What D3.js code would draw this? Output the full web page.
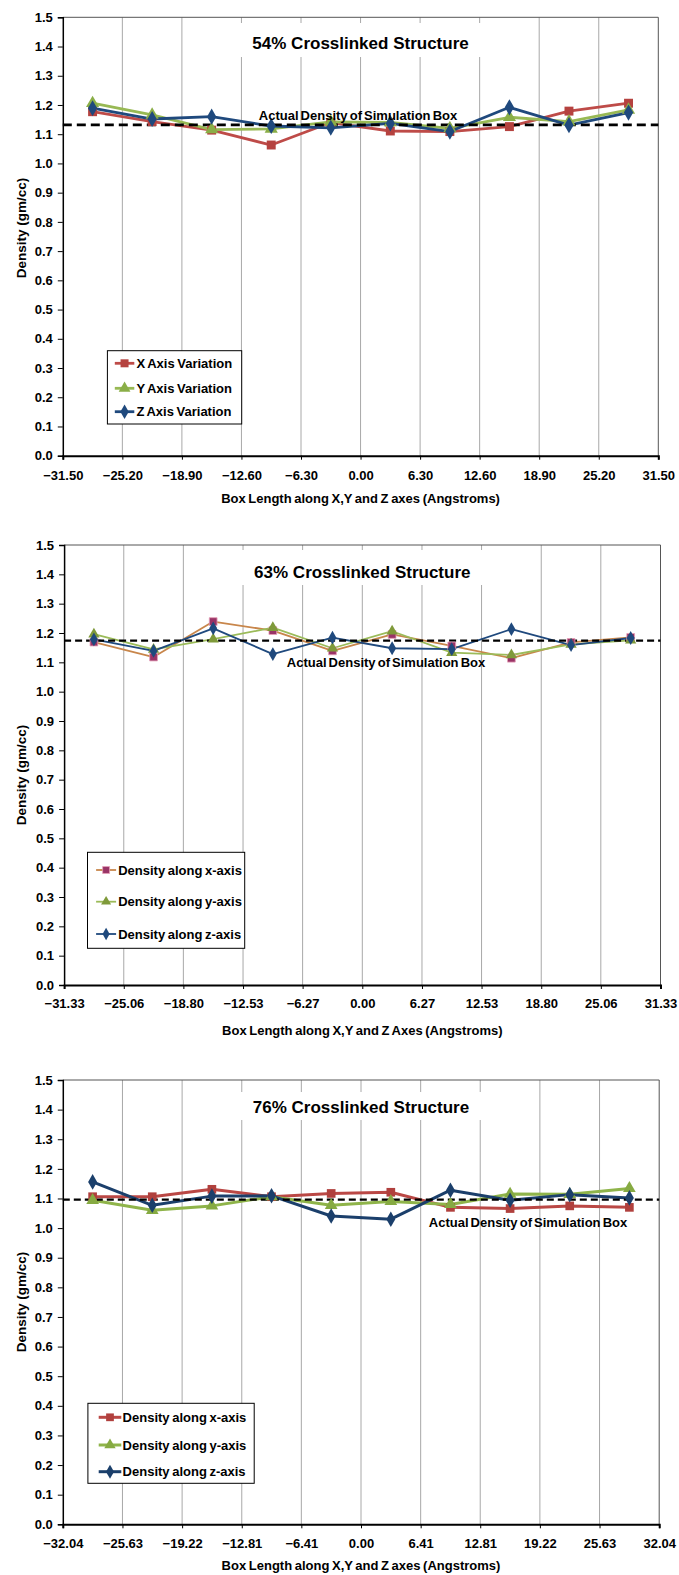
<!DOCTYPE html>
<html><head><meta charset="utf-8">
<script src="https://cdn.jsdelivr.net/npm/d3@7/dist/d3.min.js"></script>
<style>
html,body{margin:0;padding:0;background:#fff;}
svg text{font-family:"Liberation Sans",Arial,sans-serif;font-weight:bold;fill:#000;}
</style></head>
<body>
<svg id="c" width="679" height="1575"></svg>
<script>
// ---------- DATA ----------
const yTicks = [0.0,0.1,0.2,0.3,0.4,0.5,0.6,0.7,0.8,0.9,1.0,1.1,1.2,1.3,1.4,1.5];

// Panel 1 : 54%
const xTicks54 = [-31.50,-25.20,-18.90,-12.60,-6.30,0.00,6.30,12.60,18.90,25.20,31.50];
const pos54 = [-28.35,-22.05,-15.75,-9.45,-3.15,3.15,9.45,15.75,22.05,28.35];
const xVar54 = [1.177,1.143,1.114,1.063,1.140,1.111,1.109,1.126,1.179,1.206];
const yVar54 = [1.206,1.166,1.116,1.118,1.142,1.140,1.120,1.158,1.143,1.183];
const zVar54 = [1.189,1.152,1.160,1.128,1.122,1.137,1.109,1.192,1.131,1.174];
const actual54 = 1.132;

// Panel 2 : 63%
const xTicks63 = [-31.33,-25.06,-18.80,-12.53,-6.27,0.00,6.27,12.53,18.80,25.06,31.33];
const pos63 = [-28.197,-21.931,-15.665,-9.399,-3.133,3.133,9.399,15.665,21.931,28.197];
const xVar63 = [1.169,1.118,1.239,1.208,1.139,1.195,1.156,1.114,1.168,1.185];
const yVar63 = [1.196,1.144,1.179,1.218,1.148,1.206,1.133,1.125,1.161,1.175];
const zVar63 = [1.178,1.139,1.216,1.128,1.184,1.148,1.145,1.213,1.159,1.183];
const actual63 = 1.174;

// Panel 3 : 76%
const xTicks76 = [-32.04,-25.63,-19.22,-12.81,-6.41,0.00,6.41,12.81,19.22,25.63,32.04];
const pos76 = [-28.836,-22.428,-16.02,-9.612,-3.204,3.204,9.612,16.02,22.428,28.836];
const xVar76 = [1.106,1.106,1.131,1.106,1.117,1.121,1.070,1.066,1.075,1.070];
const yVar76 = [1.094,1.060,1.075,1.106,1.077,1.090,1.080,1.115,1.114,1.134];
const zVar76 = [1.156,1.077,1.108,1.109,1.041,1.030,1.128,1.094,1.113,1.102];
const actual76 = 1.096;

const titles = ["54% Crosslinked Structure","63% Crosslinked Structure","76% Crosslinked Structure"];
const legend54 = ["X Axis Variation","Y Axis Variation","Z Axis Variation"];
const legend63 = ["Density along x-axis","Density along y-axis","Density along z-axis"];
const legend76 = ["Density along x-axis","Density along y-axis","Density along z-axis"];
const xTitles = ["Box Length along X,Y and Z axes (Angstroms)",
                 "Box Length along X,Y and Z Axes (Angstroms)",
                 "Box Length along X,Y and Z axes (Angstroms)"];
const yTitle = "Density (gm/cc)";
const refLabel = "Actual Density of Simulation Box";

// ---------- LAYOUT / STYLE ----------
const panels = [
 {ticks:xTicks54,pos:pos54,series:[xVar54,yVar54,zVar54],actual:actual54,title:titles[0],legend:legend54,xTitle:xTitles[0],
  box:{l:62.8,r:658.3,t:17.3,b:455.7}, titleY:43.5, titleBox:{x0:236,x1:490,y0:23,y1:57},
  ref:{x:358,y:115}, leg:{x0:107.4,x1:241.7,y0:350.7,y1:424,ys:[363.3,388.3,411.7],s0:114.8,s1:134.3,tx:136.4},
  tickY:21, titleOff:42.5, yTitleY:228,
  lineColors:["#BE4B48","#98B954","#1F497D"], markColors:["#B5423F","#8AAE47","#1F497D"],
  markStroke:[null,null,null], lw:2.8, ms:[80,75,75], dashW:2.8, dash:"9,5"},
 {ticks:xTicks63,pos:pos63,series:[xVar63,yVar63,zVar63],actual:actual63,title:titles[1],legend:legend63,xTitle:xTitles[1],
  box:{l:64.1,r:660.5,t:545,b:985}, titleY:571.7, titleBox:{x0:236,x1:490,y0:550,y1:585},
  ref:{x:386,y:662}, leg:{x0:87.5,x1:244.7,y0:852.3,y1:948.3,ys:[870,901.7,934],s0:96.1,s1:116.1,tx:118.2},
  tickY:20, titleOff:45, yTitleY:775,
  lineColors:["#C8864B","#9BBB59","#1F497D"], markColors:["#993366","#7F9A3A","#1F497D"],
  markStroke:["#E6A0B8",null,null], lw:1.8, ms:[60,55,55], dashW:2.2, dash:"7,4"},
 {ticks:xTicks76,pos:pos76,series:[xVar76,yVar76,zVar76],actual:actual76,title:titles[2],legend:legend76,xTitle:xTitles[2],
  box:{l:62.8,r:659.2,t:1080,b:1524.3}, titleY:1107.3, titleBox:{x0:236,x1:490,y0:1092,y1:1120},
  ref:{x:528,y:1222.7}, leg:{x0:87.9,x1:254.2,y0:1403.3,y1:1483.3,ys:[1417.3,1445,1471.7],s0:98.7,s1:121.3,tx:122.6},
  tickY:20, titleOff:41.5, yTitleY:1302,
  lineColors:["#BA4845","#8FB44A","#1B3F6B"], markColors:["#B0403D","#86AA42","#1B3F6B"],
  markStroke:[null,null,null], lw:3, ms:[75,70,70], dashW:2.2, dash:"7,4"}
];
const symbols = [d3.symbolSquare, d3.symbolTriangle, d3.symbolDiamond];

const svg = d3.select("#c");

panels.forEach(p => {
  const g = svg.append("g");
  const x = d3.scaleLinear().domain([p.ticks[0], p.ticks[p.ticks.length-1]]).range([p.box.l, p.box.r]);
  const y = d3.scaleLinear().domain([0,1.5]).range([p.box.b, p.box.t]);

  // gridlines
  g.append("g").selectAll("line").data(p.ticks.slice(1,-1)).join("line")
    .attr("x1",d=>x(d)).attr("x2",d=>x(d)).attr("y1",p.box.t).attr("y2",p.box.b)
    .attr("stroke","#A8A8A8").attr("stroke-width",1);

  // top/right border
  g.append("path").attr("d",`M${p.box.l},${p.box.t}H${p.box.r}V${p.box.b}`)
    .attr("fill","none").attr("stroke","#555").attr("stroke-width",1);

  // title background box + title
  g.append("rect").attr("x",p.titleBox.x0).attr("y",p.titleBox.y0)
    .attr("width",p.titleBox.x1-p.titleBox.x0).attr("height",p.titleBox.y1-p.titleBox.y0).attr("fill","#fff");
  g.append("text").attr("x",(p.box.l+p.box.r)/2).attr("y",p.titleY).attr("dy","0.35em")
    .attr("text-anchor","middle").style("font-size","17px").text(p.title);

  // axes
  const yAxis = d3.axisLeft(y).tickValues(yTicks).tickFormat(d3.format(".1f")).tickSize(5).tickPadding(5);
  const ya = g.append("g").attr("transform",`translate(${p.box.l},0)`).call(yAxis);
  ya.select(".domain").attr("stroke","#000").attr("stroke-width",1.5);
  ya.selectAll(".tick line").attr("stroke","#000");
  ya.selectAll(".tick text").style("font-size","13px");

  const xAxis = d3.axisBottom(x).tickValues(p.ticks).tickFormat(d3.format(".2f")).tickSize(4).tickPadding(4);
  const xa = g.append("g").attr("transform",`translate(0,${p.box.b})`).call(xAxis);
  xa.select(".domain").attr("stroke","#000").attr("stroke-width",2);
  xa.selectAll(".tick line").attr("stroke","#000");
  xa.selectAll(".tick text").style("font-size","13px").attr("dy",null)
    .attr("y",p.tickY).attr("dominant-baseline","middle");
  svg.selectAll(".tick text").attr("font-family",null);

  // axis titles
  g.append("text").attr("x",(p.box.l+p.box.r)/2).attr("y",p.box.b+p.titleOff).attr("dy","0.35em")
    .attr("text-anchor","middle").style("font-size","13px").style("word-spacing","-1px").text(p.xTitle);
  g.append("text").attr("transform",`translate(21,${p.yTitleY}) rotate(-90)`).attr("dy","0.35em")
    .attr("text-anchor","middle").style("font-size","13.5px").text(yTitle);

  // series lines
  const line = d3.line().x((d,i)=>x(p.pos[i])).y(d=>y(d));
  p.series.forEach((s,k)=>{
    g.append("path").datum(s).attr("d",line).attr("fill","none")
      .attr("stroke",p.lineColors[k]).attr("stroke-width",p.lw).attr("stroke-linejoin","round");
  });

  // reference dashed line
  g.append("line").attr("x1",p.box.l).attr("x2",p.box.r).attr("y1",y(p.actual)).attr("y2",y(p.actual))
    .attr("stroke","#000").attr("stroke-width",p.dashW).attr("stroke-dasharray",p.dash);

  // markers
  p.series.forEach((s,k)=>{
    g.append("g").selectAll("path").data(s).join("path")
      .attr("transform",(d,i)=>`translate(${x(p.pos[i])},${y(d)})`)
      .attr("d",d3.symbol(symbols[k],p.ms[k]))
      .attr("fill",p.markColors[k])
      .attr("stroke",p.markStroke[k]||"none").attr("stroke-width",0.8);
  });

  // reference label
  g.append("text").attr("x",p.ref.x).attr("y",p.ref.y).attr("dy","0.35em").attr("text-anchor","middle")
    .style("font-size","13px").style("word-spacing","-1.5px").text(refLabel);

  // legend
  const L = p.leg;
  g.append("rect").attr("x",L.x0).attr("y",L.y0).attr("width",L.x1-L.x0).attr("height",L.y1-L.y0)
    .attr("fill","#fff").attr("stroke","#000").attr("stroke-width",1);
  p.legend.forEach((t,k)=>{
    g.append("line").attr("x1",L.s0).attr("x2",L.s1).attr("y1",L.ys[k]).attr("y2",L.ys[k])
      .attr("stroke",p.lineColors[k]).attr("stroke-width",p.lw);
    g.append("path").attr("transform",`translate(${(L.s0+L.s1)/2},${L.ys[k]})`)
      .attr("d",d3.symbol(symbols[k],p.ms[k]*0.8)).attr("fill",p.markColors[k])
      .attr("stroke",p.markStroke[k]||"none").attr("stroke-width",0.8);
    g.append("text").attr("x",L.tx).attr("y",L.ys[k]).attr("dy","0.35em")
      .style("font-size","13px").style("word-spacing","-1px").text(t);
  });
});
</script>
</body></html>
